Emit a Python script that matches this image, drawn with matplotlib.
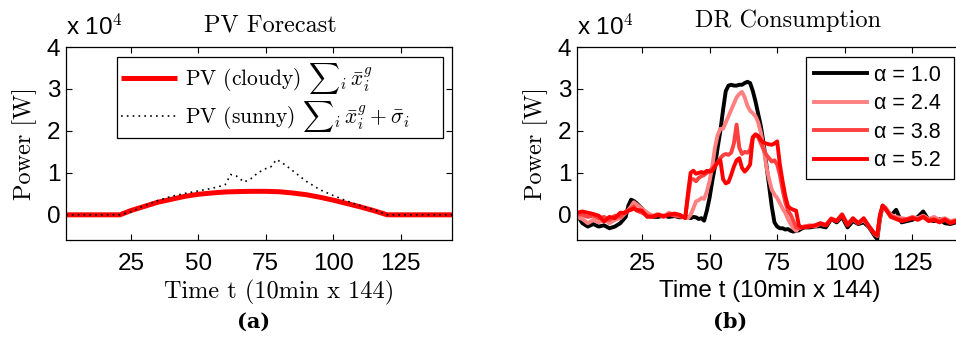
import matplotlib
matplotlib.use("Agg")
import matplotlib.pyplot as plt
import numpy as np

plt.rcParams['mathtext.fontset'] = 'cm'
plt.rcParams['axes.unicode_minus'] = False

# ---------------- data (power in units of 10^4 W) ----------------
pv_t = [1, 21, 25, 30, 35, 40, 45, 50, 55, 60, 65, 70, 75, 80, 85, 90, 95, 100, 105, 110, 115, 120, 144]
pv_cloudy = [0, 0, 0.10, 0.20, 0.30, 0.37, 0.44, 0.49, 0.52, 0.545, 0.555, 0.56, 0.56, 0.55, 0.52,
             0.48, 0.42, 0.35, 0.27, 0.19, 0.10, 0, 0]

sunny_t = [1, 21, 25, 30, 35, 40, 45, 50, 55, 58, 60, 62, 64, 67, 70, 72, 75, 77, 79, 82, 85, 90, 95,
           100, 105, 110, 115, 120, 144]
pv_sunny = [0, 0, 0.07, 0.22, 0.34, 0.44, 0.51, 0.57, 0.63, 0.68, 0.72, 0.96, 0.93, 0.78, 0.88, 1.0,
            1.1, 1.15, 1.32, 1.2, 1.05, 0.8, 0.6, 0.46, 0.33, 0.22, 0.12, 0, 0]

dr_t = [1, 3, 5, 7, 9, 11, 13, 15, 17, 19, 20, 21, 22, 23, 25, 27, 29, 31, 33, 35, 37, 39, 41,
        42, 43, 44, 45, 46, 47, 48, 49, 50, 51, 52, 53, 54, 55, 56, 57, 58, 59, 60, 61, 62, 63, 64,
        65, 66, 67, 68, 69, 70, 71, 72, 73, 74, 75, 76, 77, 78, 79, 80, 81, 82, 83, 84, 85,
        87, 89, 91, 93, 95, 97, 99, 101, 103, 105, 107, 109, 111, 112, 113, 114, 115,
        117, 119, 121, 123, 125, 127, 129, 131, 133, 135, 137, 139, 141, 143, 144]

dr_a10 = [0.0, -0.2, -0.28, -0.22, -0.28, -0.25, -0.32, -0.28, -0.2, -0.05, 0.22, 0.36, 0.33, 0.28,
          0.15, 0.0, -0.05, -0.05, -0.02, -0.05, -0.03, -0.06, -0.05,
          -0.05, -0.08, -0.05, -0.06, -0.1, -0.08, -0.14, 0.1, 0.4, 0.8, 1.15, 1.6, 2.0, 2.5, 2.95,
          3.08, 3.1, 3.08, 3.08, 3.1, 3.1, 3.14, 3.17,
          3.14, 2.95, 2.7, 2.4, 2.1, 1.7, 1.2, 0.7, 0.2, -0.18, -0.28, -0.32, -0.32, -0.35, -0.34,
          -0.38, -0.4, -0.38, -0.37, -0.33, -0.3,
          -0.3, -0.28, -0.27, -0.3, -0.1, -0.18, -0.05, -0.3, -0.15, -0.22, -0.18, -0.3, -0.5, -0.58,
          -0.1, 0.22, 0.15,
          -0.02, 0.12, -0.18, -0.15, -0.12, -0.05, 0.08, -0.12, -0.15, -0.1, -0.2, -0.22, -0.18, -0.2, -0.2]

dr_a24 = [-0.05, -0.1, -0.2, -0.12, -0.18, -0.1, -0.2, -0.12, -0.08, 0.05, 0.12, 0.2, 0.3, 0.25,
          0.15, 0.05, -0.02, 0.02, -0.04, 0.05, 0.0, -0.03, -0.05,
          -0.08, 0.0, 0.15, 0.32, 0.35, 0.4, 0.38, 0.55, 0.8, 1.15, 1.6, 1.9, 2.05, 2.05, 2.2,
          2.35, 2.5, 2.65, 2.8, 2.88, 2.93, 2.8, 2.6,
          2.48, 2.42, 2.35, 2.2, 1.95, 1.6, 1.15, 0.85, 0.6, 0.48, 0.4, 0.28, 0.15, 0.05, -0.1,
          -0.22, -0.32, -0.38, -0.32, -0.3, -0.28,
          -0.25, -0.28, -0.2, -0.25, -0.08, -0.15, 0.02, -0.22, -0.1, -0.2, -0.12, -0.28, -0.45, -0.5,
          -0.05, 0.2, 0.18,
          0.0, -0.05, -0.08, -0.1, -0.05, -0.08, -0.02, -0.1, -0.05, -0.12, -0.08, -0.15, -0.12, -0.18, -0.2]

dr_a38 = [0.02, 0.0, -0.05, -0.02, -0.08, -0.05, -0.12, -0.02, -0.05, 0.08, 0.1, 0.15, 0.2, 0.1,
          0.05, -0.02, -0.05, 0.0, -0.05, 0.02, -0.02, -0.04, -0.06,
          0.4, 0.85, 0.85, 0.8, 0.88, 0.92, 0.95, 1.0, 1.05, 1.1, 1.18, 1.25, 1.35, 1.42, 1.45,
          1.43, 1.48, 1.7, 2.15, 1.6, 1.45, 1.5, 1.48,
          1.55, 1.85, 1.9, 1.85, 1.7, 1.55, 1.43, 1.35, 1.27, 1.3, 1.2, 0.95, 0.6, 0.3, 0.1,
          0.0, -0.15, -0.3, -0.32, -0.3, -0.28,
          -0.26, -0.26, -0.22, -0.24, -0.1, -0.14, 0.0, -0.24, -0.1, -0.2, -0.1, -0.28, -0.46, -0.5,
          -0.02, 0.2, 0.15,
          -0.03, -0.08, -0.12, -0.1, -0.06, -0.1, -0.04, -0.12, -0.1, -0.15, -0.1, -0.18, -0.14, -0.2, -0.2]

dr_a52 = [0.05, 0.08, 0.05, 0.02, -0.02, -0.16, -0.05, -0.08, 0.05, 0.05, 0.1, 0.12, 0.15, 0.12,
          0.1, -0.05, -0.04, 0.0, -0.03, 0.0, 0.03, 0.0, -0.08,
          0.5, 1.0, 1.05, 0.98, 1.0, 1.02, 1.0, 1.05, 1.03, 1.05, 1.15, 1.25, 1.3, 0.85, 0.75,
          0.78, 0.95, 1.15, 1.3, 1.35, 1.12, 1.03, 1.1,
          1.2, 1.85, 1.92, 1.88, 1.78, 1.72, 1.7, 1.68, 1.67, 1.7, 1.75, 1.2, 0.8, 0.45, 0.2,
          0.15, 0.12, 0.1, -0.25, -0.3, -0.3,
          -0.28, -0.25, -0.2, -0.25, -0.1, -0.15, 0.0, -0.25, -0.08, -0.2, -0.08, -0.28, -0.45, -0.48,
          0.0, 0.22, 0.15,
          -0.05, -0.1, -0.15, -0.12, -0.08, -0.12, -0.05, -0.15, -0.12, -0.18, -0.12, -0.2, -0.15, -0.2, -0.2]

alpha_labels = ['α = 1.0', 'α = 2.4', 'α = 3.8', 'α = 5.2']
dr_colors = ['#000000', '#FF8080', '#FF4040', '#FF0000']
x_ticks = [25, 50, 75, 100, 125]
y_ticks = [0, 1, 2, 3, 4]

SANS = 'Liberation Sans'
SERIF = 'cmr10'
TICK_FS = 17.5
SERIF_FS = 17.5

fig = plt.figure(figsize=(9.56, 3.47), dpi=100)
axL = fig.add_axes([66 / 956, 1 - 240 / 347, 386 / 956, 193 / 347])
axR = fig.add_axes([577 / 956, 1 - 240 / 347, 386.8 / 956, 193 / 347])


def style(ax):
    ax.set_xlim(1, 144)
    ax.set_ylim(-0.6, 4)
    ax.set_xticks(x_ticks)
    ax.set_yticks(y_ticks)
    ax.tick_params(direction='in', top=True, right=True, length=4, width=0.8,
                   labelsize=TICK_FS)
    ax.tick_params(axis='x', pad=9.5)
    ax.tick_params(axis='y', pad=4)
    for lab in ax.get_xticklabels() + ax.get_yticklabels():
        lab.set_family(SANS)
    for s in ax.spines.values():
        s.set_linewidth(0.9)
    ax.text(0.0, 1.035, r'x 10$^{\mathsf{4}}$', transform=ax.transAxes, family=SANS,
            fontsize=TICK_FS, ha='left', va='bottom')
    ax.yaxis.set_label_coords(-0.075, 0.545)


# ---------------- left panel ----------------
style(axL)
axL.plot(np.array(pv_t), np.array(pv_cloudy), color='#FF0000', lw=3.6,
         label=r'PV (cloudy) ${\sum}_i\,\bar{x}_i^g$', solid_capstyle='butt')
axL.plot(np.array(sunny_t), np.array(pv_sunny), color='black', lw=1.2, ls=(0, (1, 2.5)),
         label=r'PV (sunny) ${\sum}_i\,\bar{x}_i^g+\bar{\sigma}_i$')
axL.set_title('PV Forecast', family=SERIF, fontsize=SERIF_FS, x=0.53, y=1.078, pad=0)
axL.set_xlabel('Time t (10min x 144)', family=SERIF, fontsize=SERIF_FS, va='top')
axL.xaxis.set_label_coords(0.552, -0.207)
axL.set_ylabel('Power [W]', family=SERIF, fontsize=SERIF_FS)
legL = axL.legend(loc='upper left', bbox_to_anchor=(0.131, 0.0, 0.846, 0.948), mode='expand',
                  borderaxespad=0,
                  prop={'family': SERIF, 'size': 15.5}, frameon=True, fancybox=False,
                  edgecolor='black', framealpha=1, handlelength=2.6, handletextpad=0.4,
                  labelspacing=0.12, borderpad=0.2)
legL.get_frame().set_linewidth(0.9)

# ---------------- right panel ----------------
style(axR)
for vals, col, lab in zip([dr_a10, dr_a24, dr_a38, dr_a52], dr_colors, alpha_labels):
    axR.plot(np.array(dr_t), np.array(vals), color=col, lw=2.8, label=lab)
axR.set_title('DR Consumption', family=SERIF, fontsize=SERIF_FS, x=0.545, y=1.105, pad=0)
axR.set_xlabel('Time t (10min x 144)', family=SANS, fontsize=TICK_FS, va='top')
axR.xaxis.set_label_coords(0.498, -0.207)
axR.set_ylabel('Power [W]', family=SERIF, fontsize=SERIF_FS)
legR = axR.legend(loc='upper left', bbox_to_anchor=(0.592, 0.0, 0.383, 0.948), mode='expand',
                  borderaxespad=0,
                  prop={'family': SANS, 'size': 15.5}, frameon=True, fancybox=False,
                  edgecolor='black', framealpha=1, handlelength=2.5, handletextpad=0.3,
                  labelspacing=0.35, borderpad=0.35)
legR.get_frame().set_linewidth(0.9)

fig.text(254 / 956, 1 - 322 / 347, '(a)', family='DejaVu Serif', fontweight='bold',
         fontsize=15, ha='center', va='center')
fig.text(730 / 956, 1 - 322 / 347, '(b)', family='DejaVu Serif', fontweight='bold',
         fontsize=15, ha='center', va='center')

fig.savefig('out.png', dpi=100)
